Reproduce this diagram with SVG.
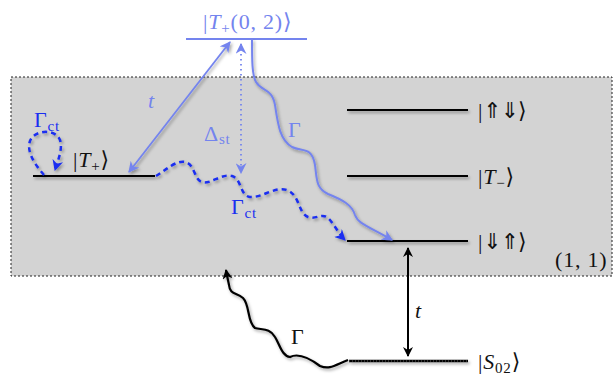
<svg xmlns="http://www.w3.org/2000/svg" width="613" height="375" viewBox="0 0 613 375">
<style>
.lvl{stroke:#000;stroke-width:2.2;fill:none}
.lbl{font-family:"Liberation Serif","DejaVu Serif",serif;font-size:22px;fill:#111;letter-spacing:0.8px}
.ar{font-family:"DejaVu Sans",sans-serif;font-size:22px;letter-spacing:-1px}
.it{font-style:italic;font-family:"Liberation Serif",serif;font-size:22px}
.lb{fill:#7484ee}
.db{fill:#1a2ff0}
.sub{font-size:15px}
</style>
<defs>
<filter id="sh" filterUnits="userSpaceOnUse" x="0" y="0" width="613" height="375">
<feDropShadow dx="1.5" dy="2" stdDeviation="1.5" flood-color="#000" flood-opacity="0.35"/>
</filter>
<marker id="mk" viewBox="0 0 10 10" refX="9" refY="5" markerWidth="10" markerHeight="10" markerUnits="userSpaceOnUse" orient="auto-start-reverse"><path d="M0,0 L10,5 L0,10 L3,5z" fill="#000"/></marker>
<marker id="ml" viewBox="0 0 10 10" refX="9" refY="5" markerWidth="11" markerHeight="11" markerUnits="userSpaceOnUse" orient="auto-start-reverse"><path d="M0,0 L10,5 L0,10 L3,5z" fill="#7484ee"/></marker>
<marker id="md" viewBox="0 0 10 10" refX="9" refY="5" markerWidth="11" markerHeight="11" markerUnits="userSpaceOnUse" orient="auto-start-reverse"><path d="M0,0 L10,5 L0,10 L3,5z" fill="#1a2ff0"/></marker>
</defs>
<rect x="11" y="77" width="601" height="199" fill="#d3d3d3" stroke="#222" stroke-width="1" stroke-dasharray="2,2"/>
<text x="555" y="267" class="lbl">(1, 1)</text>

<g id="T02">
<line x1="186" y1="39" x2="307" y2="39" stroke="#7484ee" stroke-width="2"/>
<text x="203" y="29" class="lbl lb">|<tspan font-style="italic">T</tspan><tspan class="sub" dy="4">+</tspan><tspan dy="-4">(0, 2)⟩</tspan></text>
</g>
<g id="Tplus">
<line x1="33" y1="176" x2="155" y2="176" class="lvl" filter="url(#sh)"/>
<text x="73" y="167" class="lbl">|<tspan font-style="italic">T</tspan><tspan class="sub" dy="4">+</tspan><tspan dy="-4">⟩</tspan></text>
</g>
<g id="UD">
<line x1="347" y1="110" x2="468" y2="110" class="lvl" filter="url(#sh)"/>
<text x="478" y="118" class="lbl">|<tspan class="ar">⇑⇓</tspan>⟩</text>
</g>
<g id="Tminus">
<line x1="347" y1="176" x2="468" y2="176" class="lvl" filter="url(#sh)"/>
<text x="478" y="184" class="lbl">|<tspan font-style="italic">T</tspan><tspan class="sub" dy="4">−</tspan><tspan dy="-4">⟩</tspan></text>
</g>
<g id="DU">
<line x1="347" y1="241" x2="468" y2="241" class="lvl" filter="url(#sh)"/>
<text x="478" y="249" class="lbl">|<tspan class="ar">⇓⇑</tspan>⟩</text>
</g>
<g id="S02">
<path d="M349,361 L468,361" stroke="#000" stroke-width="2.6" fill="none" filter="url(#sh)"/>
<path d="M349,361 L468,361" stroke="#666" stroke-width="1" stroke-dasharray="1,2" fill="none"/>
<text x="478" y="369" class="lbl">|<tspan font-style="italic">S</tspan><tspan class="sub" dy="4">02</tspan><tspan dy="-4">⟩</tspan></text>
</g>

<g id="connectors" fill="none">
<line x1="129" y1="172" x2="230" y2="42" stroke="#7484ee" stroke-width="1.8" marker-start="url(#ml)" marker-end="url(#ml)" filter="url(#sh)"/>
<text x="148" y="108" class="it lb">t</text>
<line x1="241" y1="44" x2="241" y2="173" stroke="#7484ee" stroke-width="1.8" stroke-dasharray="1.5,3.5" marker-start="url(#ml)" marker-end="url(#ml)"/>
<text x="204" y="141" class="lbl lb">Δ<tspan class="sub" dy="3">st</tspan></text>
<path d="M252,39 C252,60 252,75 256,82 C262,92 272,88 275,105 C278,125 280,140 292,147 C302,152 312,146 315,165 C317,180 316,188 328,194 C343,200 352,205 355,215 C358,224 370,227 392,240" stroke="#7484ee" stroke-width="2" marker-end="url(#ml)" filter="url(#sh)"/>
<text x="288" y="137" class="lbl lb">Γ</text>
<path d="M156,176 C166,170 176,160 185,162 C195,164 194,180 202,182 C210,185 222,173 232,176 C242,179 240,196 250,197 C262,198 275,186 287,190 C300,195 298,213 308,217 C318,220 322,211 330,220 C335,226 339,234 345,240" stroke="#1a2ff0" stroke-width="2.5" stroke-dasharray="5,4" marker-end="url(#md)" filter="url(#sh)"/>
<text x="231" y="214" class="lbl db">Γ<tspan class="sub" dy="4">ct</tspan></text>
<path d="M44,175 C36,166 26,152 30,141 C34,130 55,128 60,140 C63,149 58,160 55,170" stroke="#1a2ff0" stroke-width="2.5" stroke-dasharray="5,4" marker-end="url(#md)" filter="url(#sh)"/>
<text x="34" y="127" class="lbl db">Γ<tspan class="sub" dy="4">ct</tspan></text>
<line x1="408" y1="248" x2="408" y2="356" stroke="#000" stroke-width="2" marker-start="url(#mk)" marker-end="url(#mk)"/>
<text x="415" y="318" class="it" fill="#111">t</text>
<path d="M348,360 C335,365 330,370 320,366 C312,360 300,352 290,357 C282,356 280,345 275,337 C270,328 262,330 255,328 C247,322 250,305 243,298 C236,292 230,295 229,285 C228,280 227,276 226,270" stroke="#000" stroke-width="2.2" marker-end="url(#mk)" filter="url(#sh)"/>
<text x="291" y="344" class="lbl">Γ</text>
</g>
</svg>
